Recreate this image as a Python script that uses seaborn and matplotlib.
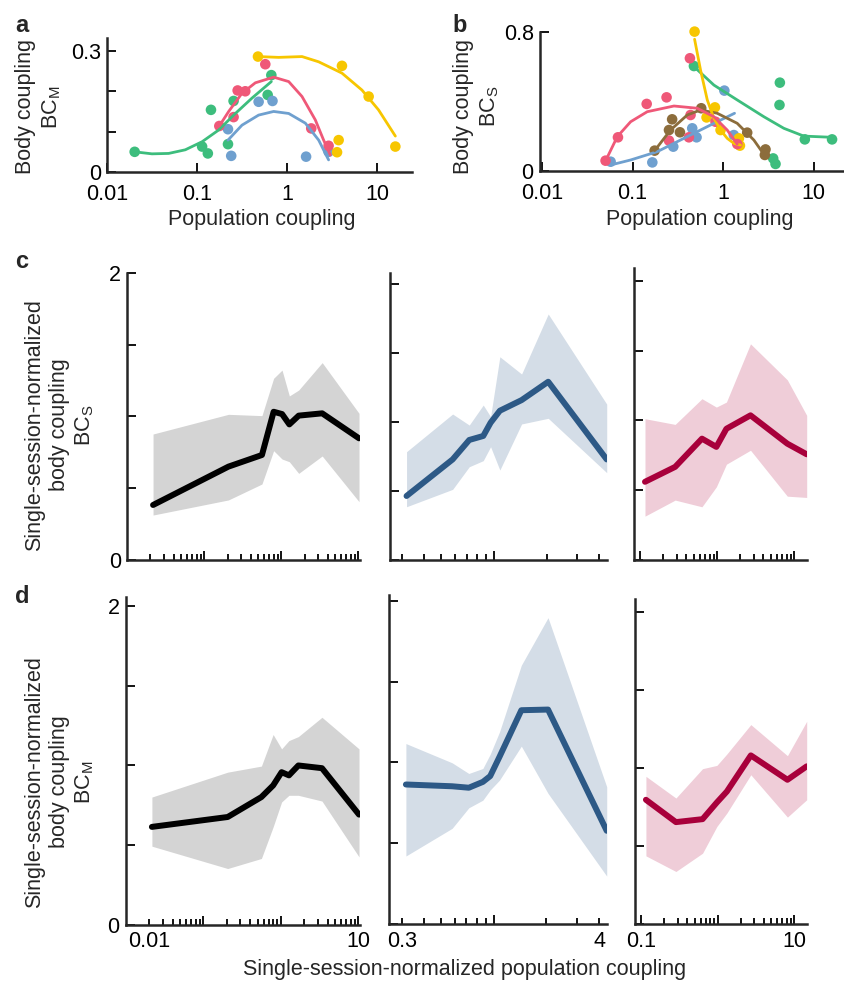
import numpy as np
import pandas as pd
import matplotlib
matplotlib.use("Agg")
import matplotlib.pyplot as plt
import seaborn as sns
from matplotlib.ticker import NullLocator

# ---- panel a: body coupling BC_M vs population coupling (scatter + fitted curves)
a_green_x = [0.0203, 0.114, 0.132, 0.143, 0.221, 0.255, 0.61, 0.67]
a_green_y = [0.050, 0.063, 0.046, 0.154, 0.069, 0.176, 0.191, 0.240]
a_pink_x = [0.177, 0.255, 0.283, 0.344, 0.574, 1.86, 2.90]
a_pink_y = [0.114, 0.136, 0.202, 0.200, 0.267, 0.108, 0.065]
a_blue_x = [0.221, 0.24, 0.484, 0.69, 1.63, 2.9]
a_blue_y = [0.106, 0.040, 0.174, 0.176, 0.038, 0.050]
a_yellow_x = [0.476, 4.08, 8.08, 3.75, 3.6, 16.0]
a_yellow_y = [0.286, 0.263, 0.187, 0.079, 0.049, 0.063]

a_fit_green_x = [0.0203, 0.0316, 0.0484, 0.0741, 0.114, 0.174, 0.267, 0.408, 0.67]
a_fit_green_y = [0.050, 0.045, 0.046, 0.055, 0.075, 0.104, 0.145, 0.183, 0.224]
a_fit_pink_x = [0.177, 0.225, 0.316, 0.445, 0.711, 1.045, 1.469, 2.065, 2.553, 3.03]
a_fit_pink_y = [0.114, 0.150, 0.195, 0.221, 0.235, 0.224, 0.187, 0.129, 0.079, 0.042]
a_fit_blue_x = [0.221, 0.316, 0.484, 0.711, 1.045, 1.60, 2.25, 2.90]
a_fit_blue_y = [0.079, 0.116, 0.141, 0.150, 0.145, 0.121, 0.079, 0.030]
a_fit_yellow_x = [0.476, 0.808, 1.47, 2.25, 4.08, 6.81, 10.4, 16.0]
a_fit_yellow_y = [0.286, 0.284, 0.286, 0.273, 0.245, 0.203, 0.154, 0.089]

# ---- panel b: body coupling BC_S vs population coupling
b_yellow_x = [0.483, 0.81, 0.655, 0.935, 1.49, 1.53]
b_yellow_y = [0.804, 0.366, 0.308, 0.235, 0.187, 0.145]
b_green_x = [0.475, 4.22, 4.18, 7.96, 15.9, 3.56, 3.78]
b_green_y = [0.605, 0.509, 0.380, 0.181, 0.181, 0.071, 0.039]
b_blue_x = [0.0572, 0.165, 0.281, 0.455, 0.508, 1.03, 1.31]
b_blue_y = [0.052, 0.048, 0.139, 0.245, 0.193, 0.463, 0.206]
b_pink_x = [0.0503, 0.0689, 0.143, 0.237, 0.429, 0.436, 0.418, 0.252, 0.822, 1.43]
b_pink_y = [0.058, 0.193, 0.386, 0.424, 0.650, 0.322, 0.193, 0.174, 0.283, 0.154]
b_brown_x = [0.175, 0.252, 0.273, 0.333, 0.572, 1.84, 2.93, 2.88]
b_brown_y = [0.116, 0.235, 0.297, 0.222, 0.361, 0.220, 0.123, 0.091]

b_fit_yellow_x = [0.483, 0.562, 0.667, 0.789, 0.935, 1.107, 1.312, 1.552]
b_fit_yellow_y = [0.760, 0.582, 0.409, 0.303, 0.235, 0.187, 0.158, 0.148]
b_fit_green_x = [0.474, 0.789, 1.427, 2.81, 4.67, 7.76, 15.9]
b_fit_green_y = [0.602, 0.495, 0.409, 0.312, 0.245, 0.200, 0.193]
b_fit_blue_x = [0.0572, 0.0951, 0.187, 0.368, 0.724, 1.334]
b_fit_blue_y = [0.033, 0.062, 0.110, 0.187, 0.264, 0.332]
b_fit_pink_x = [0.0504, 0.0678, 0.0951, 0.145, 0.286, 0.516, 0.789, 1.107, 1.427]
b_fit_pink_y = [0.058, 0.197, 0.283, 0.341, 0.374, 0.361, 0.312, 0.235, 0.154]
b_fit_brown_x = [0.175, 0.262, 0.401, 0.562, 0.859, 1.427, 2.18, 2.93]
b_fit_brown_y = [0.116, 0.235, 0.322, 0.351, 0.332, 0.274, 0.177, 0.081]

# ---- panels c/d: binned normalized coupling, mean line + band
x_col1 = [0.0216, 0.2056, 0.560, 0.794, 1.021, 1.27, 1.68, 3.39, 10.2]
x_col2 = [0.317, 0.581, 0.723, 0.869, 0.957, 1.081, 1.439, 2.042, 4.406]
x_col3 = [0.116, 0.286, 0.637, 0.98, 1.324, 2.72, 8.18, 14.6]

c1_mean = [0.383, 0.650, 0.731, 1.032, 1.016, 0.944, 1.005, 1.021, 0.847]
c1_hi = [0.877, 1.014, 1.005, 1.265, 1.322, 1.142, 1.183, 1.374, 1.021]
c1_lo = [0.313, 0.418, 0.529, 0.761, 0.703, 0.684, 0.603, 0.724, 0.406]
c2_mean = [0.464, 0.729, 0.870, 0.899, 0.995, 1.082, 1.159, 1.292, 0.729]
c2_hi = [0.785, 1.058, 0.978, 1.123, 1.039, 1.473, 1.348, 1.783, 1.130]
c2_lo = [0.386, 0.512, 0.676, 0.720, 0.821, 0.652, 0.986, 1.027, 0.633]
c3_mean = [0.560, 0.667, 0.869, 0.810, 0.940, 1.036, 0.833, 0.757]
c3_hi = [1.012, 0.971, 1.155, 1.095, 1.131, 1.548, 1.290, 1.036]
c3_lo = [0.314, 0.429, 0.381, 0.524, 0.686, 0.786, 0.457, 0.448]

d1_mean = [0.615, 0.677, 0.802, 0.875, 0.958, 0.938, 1.000, 0.983, 0.692]
d1_hi = [0.802, 0.958, 0.996, 1.194, 1.104, 1.156, 1.181, 1.302, 1.104]
d1_lo = [0.494, 0.354, 0.417, 0.615, 0.771, 0.813, 0.813, 0.777, 0.427]
d2_mean = [0.864, 0.853, 0.844, 0.880, 0.916, 1.035, 1.323, 1.327, 0.578]
d2_hi = [1.117, 0.998, 0.932, 0.963, 1.051, 1.189, 1.601, 1.895, 0.850]
d2_lo = [0.422, 0.593, 0.720, 0.767, 0.830, 0.891, 1.101, 0.809, 0.298]
d3_mean = [0.797, 0.654, 0.673, 0.780, 0.850, 1.081, 0.925, 1.011]
d3_hi = [0.947, 0.808, 0.996, 1.017, 1.090, 1.278, 1.079, 1.299]
d3_lo = [0.438, 0.338, 0.455, 0.626, 0.712, 0.957, 0.686, 0.797]

GREEN, PINK, BLUE, YELLOW, BROWN = "#3dbd7d", "#ef5878", "#6fa0cf", "#f7c600", "#8c6d3c"
COLS = [("#000000", "#d4d4d4"), ("#2d5986", "#d4dde7"), ("#a8003b", "#efcdd8")]

sns.set_style("ticks")
plt.rcParams["font.family"] = ["Liberation Sans", "DejaVu Sans"]
plt.rcParams["mathtext.fontset"] = "custom"
plt.rcParams["mathtext.rm"] = "Liberation Sans"
plt.rcParams["mathtext.it"] = "Liberation Sans:italic"

W, H = 844, 984
FS = 15.5
fig = plt.figure(figsize=(W / 100, H / 100), dpi=100)


def px_axes(l, t, r, b):
    return fig.add_axes([l / W, 1 - b / H, (r - l) / W, (b - t) / H])


def style(ax, xpad):
    sns.despine(ax=ax)
    for s in ["left", "bottom"]:
        ax.spines[s].set_linewidth(1.8)
    ax.tick_params(which="both", direction="in", width=1.3, labelsize=FS, colors="black")
    ax.tick_params(which="major", length=6.5)
    ax.tick_params(which="minor", length=4.5)
    ax.tick_params(axis="y", which="both", pad=4.5)
    ax.tick_params(axis="x", which="both", pad=xpad)
    ax.set_facecolor("none")


def scatter_panel(ax, groups, fits):
    for (x, y), c in groups:
        sns.scatterplot(x=x, y=y, ax=ax, color=c, s=58, edgecolor="none", clip_on=False, zorder=3)
    for (x, y), c in fits:
        sns.lineplot(x=x, y=y, ax=ax, color=c, lw=2.0, sort=False, zorder=4)
    ax.set_xscale("log")
    ax.set_xticks([0.01, 0.1, 1, 10], labels=["0.01", "0.1", "1", "10"])
    ax.xaxis.set_minor_locator(NullLocator())
    ax.set_xlabel("")
    ax.set_ylabel("")


# panel a
ax_a = px_axes(107, 38, 412, 172)
scatter_panel(ax_a,
              [((a_green_x, a_green_y), GREEN), ((a_blue_x, a_blue_y), BLUE),
               ((a_pink_x, a_pink_y), PINK), ((a_yellow_x, a_yellow_y), YELLOW)],
              [((a_fit_green_x, a_fit_green_y), GREEN), ((a_fit_blue_x, a_fit_blue_y), BLUE),
               ((a_fit_pink_x, a_fit_pink_y), PINK), ((a_fit_yellow_x, a_fit_yellow_y), YELLOW)])
ax_a.set_xlim(0.01, 24.5)
ax_a.set_ylim(0, 0.332)
ax_a.set_yticks([0, 0.1, 0.2, 0.3], labels=["0", "", "", "0.3"])
style(ax_a, 8.5)

# panel b
ax_b = px_axes(540, 32.3, 843, 170.7)
scatter_panel(ax_b,
              [((b_blue_x, b_blue_y), BLUE), ((b_green_x, b_green_y), GREEN),
               ((b_brown_x, b_brown_y), BROWN), ((b_yellow_x, b_yellow_y), YELLOW),
               ((b_pink_x, b_pink_y), PINK)],
              [((b_fit_blue_x, b_fit_blue_y), BLUE), ((b_fit_green_x, b_fit_green_y), GREEN),
               ((b_fit_brown_x, b_fit_brown_y), BROWN), ((b_fit_yellow_x, b_fit_yellow_y), YELLOW),
               ((b_fit_pink_x, b_fit_pink_y), PINK)])
ax_b.set_xlim(0.0095, 21)
ax_b.set_ylim(0, 0.8)
ax_b.set_yticks([0, 0.8], labels=["0", "0.8"])
style(ax_b, 8.5)

# panels c / d
col_setup = [
    dict(xlim=(0.01, 10.5), major=[0.1, 1, 10], major_lab=["", "", "10"],
         minor=[k * 10.0 ** e for e in (-2, -1, 0) for k in range(2, 10)],
         minor_lab={0.02: "0.01"}),
    dict(xlim=(0.255, 4.44), major=[1], major_lab=[""],
         minor=[0.3, 0.4, 0.5, 0.6, 0.7, 0.8, 0.9, 2, 3, 4],
         minor_lab={0.3: "0.3", 4: "4"}),
    dict(xlim=(0.0835, 14.6), major=[0.1, 1, 10], major_lab=["0.1", "", "10"],
         minor=[k * 10.0 ** e for e in (-1, 0) for k in range(2, 10)],
         minor_lab={}),
]

rows = [
    # (boxes per column (l, t, r, b), ytop per column, data per column)
    ([(127.3, 272.7, 360, 560), (390, 273.3, 607.3, 560), (634, 268.3, 806.7, 560)],
     [2.0, 2.078, 2.089],
     [(x_col1, c1_mean, c1_lo, c1_hi), (x_col2, c2_mean, c2_lo, c2_hi), (x_col3, c3_mean, c3_lo, c3_hi)],
     False),
    ([(126, 597, 360, 925), (389.3, 595, 607.3, 924.3), (635, 599.3, 806.7, 924.3)],
     [2.056, 2.035, 2.08],
     [(x_col1, d1_mean, d1_lo, d1_hi), (x_col2, d2_mean, d2_lo, d2_hi), (x_col3, d3_mean, d3_lo, d3_hi)],
     True),
]

for boxes, ytops, data, show_x in rows:
    for j, (box, ytop, (x, m, lo, hi)) in enumerate(zip(boxes, ytops, data)):
        ax = px_axes(*box)
        line_c, band_c = COLS[j]
        ax.fill_between(x, lo, hi, color=band_c, lw=0, zorder=1)
        sns.lineplot(x=x, y=m, ax=ax, color=line_c, lw=4.3, sort=False, zorder=2)
        ax.set_xscale("log")
        cs = col_setup[j]
        ax.set_xlim(*cs["xlim"])
        ax.set_ylim(0, ytop)
        ax.set_xticks(cs["major"], labels=cs["major_lab"] if show_x else [""] * len(cs["major"]))
        mlabs = [cs["minor_lab"].get(round(v, 4), "") if show_x else "" for v in cs["minor"]]
        ax.set_xticks(cs["minor"], labels=mlabs, minor=True)
        if j == 0:
            ax.set_yticks([0, 0.5, 1, 1.5, 2], labels=["0", "", "", "", "2"])
        else:
            ax.set_yticks([0, 0.5, 1, 1.5, 2], labels=[""] * 5)
        ax.set_xlabel("")
        ax.set_ylabel("")
        style(ax, 4.5)

# texts
for lab, (x, y) in {"a": (15, 32), "b": (452, 32), "c": (15, 268), "d": (15, 603)}.items():
    fig.text(x / W, 1 - y / H, lab, fontsize=17, fontweight="bold", va="baseline", ha="left")

fig.text(39 / W, 1 - 107 / H, "Body coupling\nBC$_\\mathrm{M}$", rotation=90, ha="center", va="center",
         multialignment="center", fontsize=FS, linespacing=1.25)
fig.text(477 / W, 1 - 106 / H, "Body coupling\nBC$_\\mathrm{S}$", rotation=90, ha="center", va="center",
         multialignment="center", fontsize=FS, linespacing=1.25)
fig.text(60 / W, 1 - 425 / H, "Single-session-normalized\nbody coupling\nBC$_\\mathrm{S}$", rotation=90,
         ha="center", va="center", multialignment="center", fontsize=FS, linespacing=1.25)
fig.text(60 / W, 1 - 782 / H, "Single-session-normalized\nbody coupling\nBC$_\\mathrm{M}$", rotation=90,
         ha="center", va="center", multialignment="center", fontsize=FS, linespacing=1.25)

fig.text(262 / W, 1 - 220 / H, "Population coupling", ha="center", va="center", fontsize=FS)
fig.text(700 / W, 1 - 220 / H, "Population coupling", ha="center", va="center", fontsize=FS)
fig.text(465 / W, 1 - 970 / H, "Single-session-normalized population coupling", ha="center", va="center",
         fontsize=FS)

fig.savefig("out.png", dpi=100)
